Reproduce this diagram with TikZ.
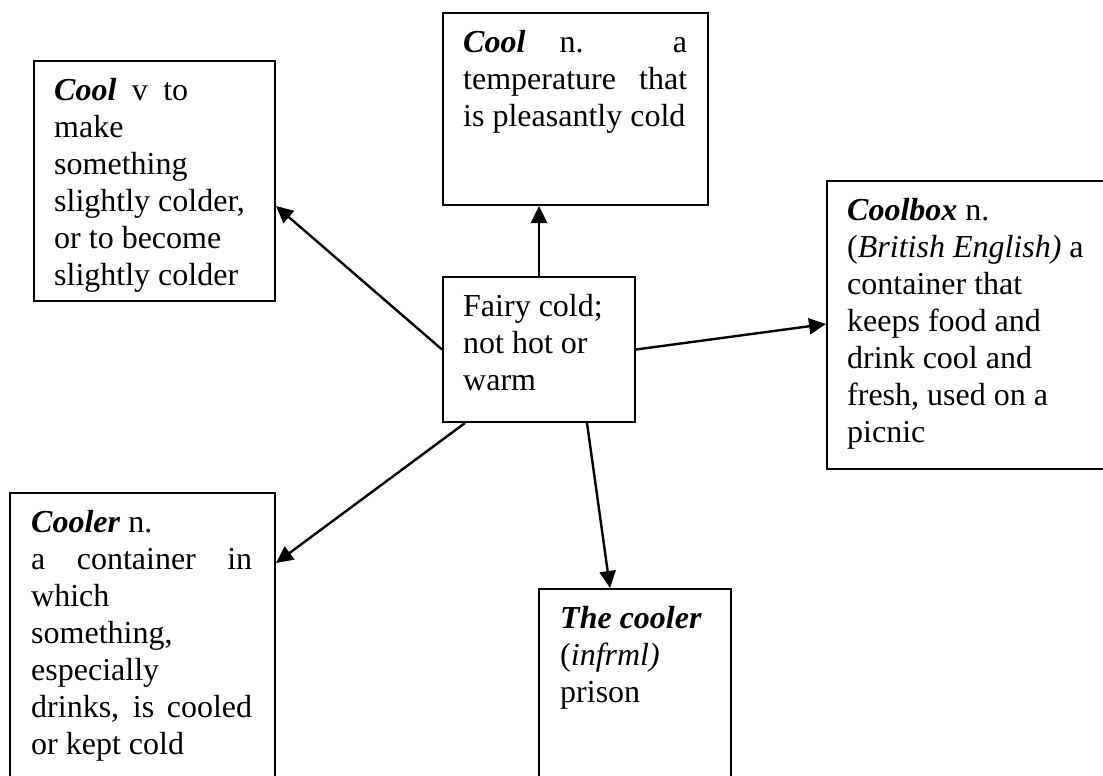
\documentclass[tikz,border=0pt]{standalone}
\usepackage{fontspec}
\setmainfont{Liberation Serif}
\usetikzlibrary{positioning,arrows.meta}

\tikzset{
  wordbox/.style={draw, line width=2pt, anchor=north west, inner sep=0pt},
  wordtext/.style={inner sep=0pt, align=left, font=\fontsize{32}{37}\selectfont},
  link/.style={-{Triangle[length=17pt,width=16pt]}, line width=2.4pt},
}
% stretch a justified line to a fixed width
\newcommand{\spread}[2]{\makebox[#1][s]{#2}}
% head word
\newcommand{\hw}[1]{\textbf{\textit{#1}}}

\begin{document}
\begin{tikzpicture}[x=1pt,y=1pt]
    \useasboundingbox (0,0) rectangle (1103,-776);
    \clip (0,0) rectangle (1103,-776);

    % Boxes (the right and bottom ones run off the page)
    \node[wordbox, minimum width=192pt, minimum height=145pt] (core) at (442,-276) {};
    \node[wordbox, minimum width=241pt, minimum height=240pt] (coolv) at (33,-60) {};
    \node[wordbox, minimum width=265pt, minimum height=192pt] (cooln) at (442,-12) {};
    \node[wordbox, minimum width=300pt, minimum height=288pt] (coolbox) at (826,-180) {};
    \node[wordbox, minimum width=265pt, minimum height=320pt] (cooler) at (9,-492) {};
    \node[wordbox, minimum width=192pt, minimum height=220pt] (thecooler) at (538,-588) {};

    % Texts
    \node[wordtext, below right=14.5pt and 21pt of core.north west] (coretext)
        {\strut Fairy cold;\\ not hot or\\ warm};
    \node[wordtext, below right=14.5pt and 21pt of coolv.north west] (coolvtext)
        {\strut\spread{134pt}{\hw{Cool} v to}\\ make\\ something\\
         slightly colder,\\ or to become\\ slightly colder};
    \node[wordtext, below right=14.5pt and 21pt of cooln.north west] (coolntext)
        {\strut\spread{224pt}{\hw{Cool} n. a}\\ \spread{224pt}{temperature that}\\
         is pleasantly cold};
    \node[wordtext, below right=14.5pt and 21pt of coolbox.north west] (coolboxtext)
        {\strut\hw{Coolbox} n.\\ (\textit{British English)} a\\ container that\\
         keeps food and\\ drink cool and\\ fresh, used on a\\ picnic};
    \node[wordtext, below right=14.5pt and 22pt of cooler.north west] (coolertext)
        {\strut\hw{Cooler} n.\\ \spread{221pt}{a container in}\\ which\\ something,\\
         especially\\ \spread{221pt}{drinks, is cooled}\\ or kept cold};
    \node[wordtext, below right=14.5pt and 22pt of thecooler.north west] (thecoolertext)
        {\strut\hw{The cooler}\\ (\textit{infrml)}\\ prison};

    % Arrows out of the middle box
    \draw[link] (core.north) -- (core.north |- cooln.south);
    \draw[link] (core.west) -- ([yshift=-25pt]coolv.east);
    \draw[link] (core.east) -- ([yshift=-144pt]coolbox.north west);
    \draw[link] ([xshift=23pt]core.south west) -- ([yshift=-71pt]cooler.north east);
    \draw[link] ([xshift=48pt]core.south) -- ([xshift=-25pt]thecooler.north);
\end{tikzpicture}
\end{document}
